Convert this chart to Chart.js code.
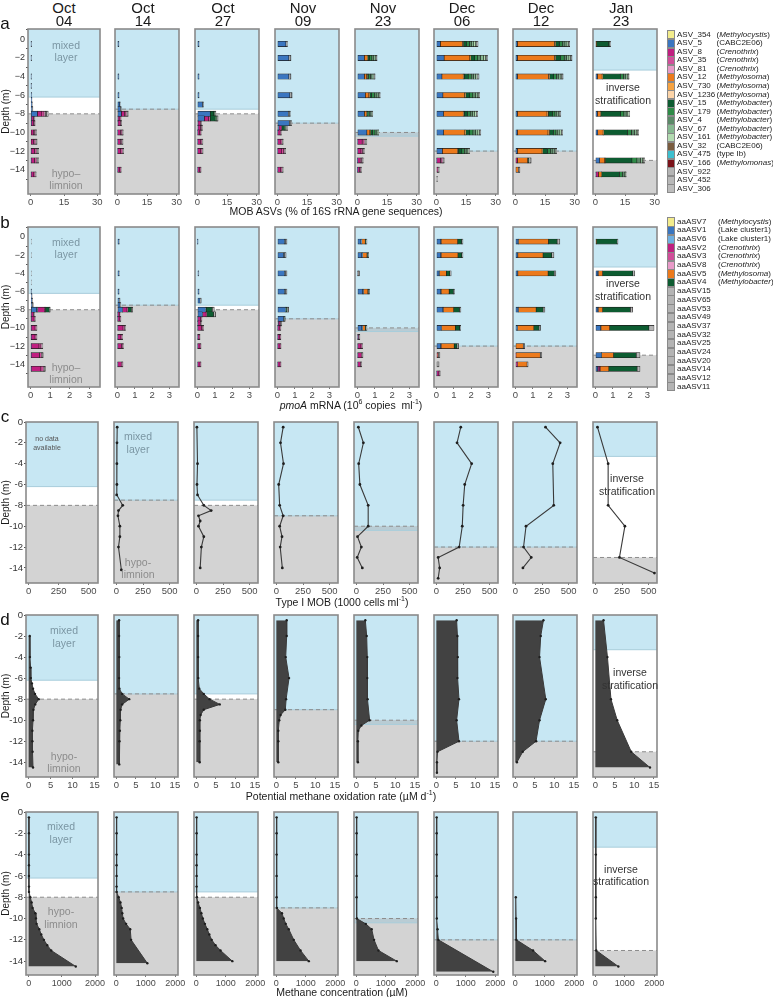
<!DOCTYPE html>
<html>
<head>
<meta charset="utf-8">
<script src="https://cdn.jsdelivr.net/npm/chart.js@4.4.0/dist/chart.umd.min.js"></script>
<style>
  body { margin: 0; background: #fff; }
  #fig { position: relative; width: 773px; height: 997px; overflow: hidden; font-family: "Liberation Sans", Arial, sans-serif; }
  #fig canvas { position: absolute; }
  .t { position: absolute; transform: translate(-50%, -50%); white-space: nowrap; z-index: 2; line-height: 1; }
  .l { position: absolute; transform: translate(0, -50%); white-space: nowrap; z-index: 2; line-height: 1; font-size: 8px; color: #222; }
  .sw { position: absolute; width: 8px; box-sizing: border-box; border: 1px solid #8a8a8a; z-index: 2; }
</style>
</head>
<body>
<div id="fig"></div>
<script>
// sampling dates (column headers)
const dateMonth = ['Oct', 'Oct', 'Oct', 'Nov', 'Nov', 'Dec', 'Dec', 'Jan'];
const dateDay = ['04', '14', '27', '09', '23', '06', '12', '23'];

// layer limits per date (m)
const mixedBottom = [-6.2, -7.5, -7.5, -9.0, -10.4, -12.0, -12.0, -3.3];
const hypoTop = [-8.0, -7.5, -8.0, -9.0, -10.0, -12.0, -12.0, -13.0];

const depthTicks = [0, -2, -4, -6, -8, -10, -12, -14];

// legend a
const asvNames = ['ASV_354', 'ASV_5', 'ASV_8', 'ASV_35', 'ASV_81', 'ASV_12', 'ASV_730', 'ASV_1236', 'ASV_15', 'ASV_179',
  'ASV_4', 'ASV_67', 'ASV_161', 'ASV_32', 'ASV_475', 'ASV_166', 'ASV_922', 'ASV_452', 'ASV_306'];
const asvGenus = ['(<i>Methylocystis</i>)', '(CABC2E06)', '(<i>Crenothrix</i>)', '(<i>Crenothrix</i>)', '(<i>Crenothrix</i>)',
  '(<i>Methylosoma</i>)', '(<i>Methylosoma</i>)', '(<i>Methylosoma</i>)', '(<i>Methylobacter</i>)', '(<i>Methylobacter</i>)',
  '(<i>Methylobacter</i>)', '(<i>Methylobacter</i>)', '(<i>Methylobacter</i>)', '(CABC2E06)', '(type Ib)', '(<i>Methylomonas</i>)', '', '', ''];
const asvColors = ['#f3ec8c', '#3a76c0', '#c01f80', '#d14e9a', '#e89ac8', '#ec7a1c', '#f7a341', '#fcd4a8', '#0d5c31', '#2e8b47',
  '#5b8a68', '#86b991', '#b3dcb1', '#7a5c3f', '#3dbfcf', '#7a1219', '#b4b4b4', '#b8b8b8', '#bcbcbc'];
// columns used in the mob tables below (index into the legend)
const mobCols = [1, 2, 3, 4, 5, 6, 8, 9, 10, 11, 12, 16, 18];

// legend b
const aaNames = ['aaASV7', 'aaASV1', 'aaASV6', 'aaASV2', 'aaASV3', 'aaASV8', 'aaASV5', 'aaASV4', 'aaASV15', 'aaASV65',
  'aaASV53', 'aaASV49', 'aaASV37', 'aaASV32', 'aaASV25', 'aaASV24', 'aaASV20', 'aaASV14', 'aaASV12', 'aaASV11'];
const aaGenus = ['(<i>Methylocystis</i>)', '(Lake cluster1)', '(Lake cluster1)', '(<i>Crenothrix</i>)', '(<i>Crenothrix</i>)',
  '(<i>Crenothrix</i>)', '(<i>Methylosoma</i>)', '(<i>Methylobacter</i>)'];
const aaColors = ['#f3ec8c', '#3a76c0', '#6fb0e2', '#c01f80', '#d14e9a', '#e89ac8', '#ec7a1c', '#0d5c31', '#b4b4b4', '#b4b4b4',
  '#b4b4b4', '#b4b4b4', '#b4b4b4', '#b4b4b4', '#b4b4b4', '#b4b4b4', '#b4b4b4', '#b4b4b4', '#b4b4b4', '#b4b4b4'];
const pmoCols = [1, 2, 3, 4, 5, 6, 7, 8];

// a: MOB ASVs (%), rows = [depth, ASV_5, 8, 35, 81, 12, 730, 15, 179, 4, 67, 161, 922, 306]
const mobOct04 = [
  [-0.5, .2,0,0,0,0,0,0,0,0,0,0,.2,0], [-2, .2,0,0,0,0,0,0,0,0,0,0,.2,0], [-4, .2,0,0,0,0,0,0,0,0,0,0,.2,0],
  [-5, .2,0,0,0,0,0,0,0,0,0,0,.2,0], [-6, .3,0,0,0,0,0,0,0,0,0,0,.2,0], [-6.5, .4,0,0,0,0,0,0,0,0,0,0,.2,0],
  [-7, .5,0,0,0,0,0,0,0,0,0,0,.3,0], [-7.5, .7,0,0,0,0,0,0,0,0,0,0,.3,0], [-8, 3.0,2.0,1.0,.6,0,0,0,0,0,0,0,.5,.8],
  [-8.5, .3,1.0,.3,0,0,0,0,0,0,0,0,.3,0], [-9, .3,1.0,.4,0,0,0,0,0,0,0,0,.3,0], [-10, 0,1.2,.6,.3,0,0,0,0,0,0,0,.3,.3],
  [-11, 0,1.3,.6,.3,0,0,0,0,0,0,0,.4,.3], [-12, .2,1.5,.8,.4,0,0,0,0,0,0,0,.4,.3], [-13, .2,1.5,.8,.4,0,0,0,0,0,0,0,.4,.3],
  [-14.5, .2,1.2,.5,0,0,0,0,0,0,0,0,.4,.2]];
const mobOct14 = [
  [-0.5, .6,0,0,0,0,0,0,0,0,0,0,.2,0], [-4, .6,0,0,0,0,0,0,0,0,0,0,.2,0], [-6, .7,0,0,0,0,0,0,0,0,0,0,.2,0],
  [-7, 1.2,0,0,0,0,0,0,0,0,0,0,.3,0], [-7.5, 1.5,0,0,0,0,0,0,0,0,0,0,.5,0], [-8, 2.0,1.5,.8,.4,0,0,0,0,0,0,0,.4,.4],
  [-8.5, .3,1.0,.3,0,0,0,0,0,0,0,0,.3,0], [-9, .3,1.2,.4,0,0,0,0,0,0,0,0,.3,0], [-10, .2,1.4,.6,.3,0,0,0,0,0,0,0,.3,.2],
  [-11, .2,1.3,.6,.3,0,0,0,0,0,0,0,.3,.2], [-12, .2,1.5,.7,.3,0,0,0,0,0,0,0,.3,.2], [-14, .2,1.0,.5,0,0,0,0,0,0,0,0,.3,0]];
const mobOct27 = [
  [-0.5, .7,0,0,0,0,0,0,0,0,0,0,.2,0], [-4, .7,0,0,0,0,0,0,0,0,0,0,.2,0], [-6, .7,0,0,0,0,0,0,0,0,0,0,.2,0],
  [-7, 2.6,0,0,0,0,0,0,0,0,0,0,.5,0], [-8, 6.5,0,0,0,0,0,1.8,.4,0,0,0,.5,.2], [-8.5, 3.5,2.2,.8,0,0,0,2.5,.5,.3,0,0,.4,.3],
  [-9, .3,1.2,.4,0,0,0,0,0,0,0,0,.3,0], [-9.5, .3,1.3,.5,0,0,0,0,0,0,0,0,.3,.2], [-10, .2,1.0,.5,0,0,0,0,0,0,0,0,.3,0],
  [-11, .2,1.5,.5,0,0,0,0,0,0,0,0,.3,.3], [-12, .2,1.5,.6,0,0,0,0,0,0,0,0,.3,.3], [-14, .2,1.0,.4,0,0,0,0,0,0,0,0,.3,0]];
const mobNov09 = [
  [-0.5, 4.3,0,0,0,0,0,0,0,0,0,0,.6,.2], [-2, 5.8,0,0,0,0,0,0,0,0,0,0,.8,.3], [-4, 5.8,0,0,0,0,0,0,0,0,0,0,.8,.3],
  [-6, 6.3,0,0,0,0,0,0,0,0,0,0,.8,.4], [-8, 5.5,0,0,0,0,0,0,0,0,0,0,.7,.4], [-9, 6.0,0,0,0,0,0,0,0,0,0,0,.8,.4],
  [-9.5, .8,1.2,.3,0,0,0,1.2,.4,.5,0,0,.5,.3], [-10, .2,1.2,.4,0,0,0,0,0,0,0,0,.3,0], [-11, .2,1.6,.6,0,0,0,0,0,0,0,0,.3,.3],
  [-12, .2,2.0,1.0,.4,0,0,0,0,0,0,0,.3,.3], [-14, .2,1.5,.6,0,0,0,0,0,0,0,0,.4,.3]];
const mobNov23 = [
  [-2, 3.5,0,0,0,1.5,.3,.8,1.2,1.0,.8,.5,.2,.2], [-4, 3.5,0,0,0,1.2,.3,.6,1.0,.8,.6,.5,.2,.3],
  [-6, 4.0,0,0,0,1.8,.4,1.0,1.5,1.2,.8,.5,.2,.2], [-8, 3.5,0,0,0,1.0,.2,.6,.8,.6,.5,.4,.2,0],
  [-10, 4.8,0,0,0,1.5,.3,1.0,1.3,1.0,.5,.3,0,.1], [-11, .2,2.2,1.0,.5,0,0,0,0,0,0,0,.5,.4],
  [-12, .2,1.6,.8,.4,0,0,0,0,0,0,0,.3,.3], [-13, .1,1.3,.7,.3,0,0,0,0,0,0,0,.3,.3], [-14, .1,1.0,.5,0,0,0,0,0,0,0,0,.3,.2]];
const mobDec06 = [
  [-0.5, 2.0,0,0,0,11.2,.5,1.5,1.5,1.2,1.0,1.0,.5,.7], [-2, 3.9,0,0,0,13.0,.5,2.0,1.5,1.5,1.5,1.0,.5,.5],
  [-4, 2.8,0,0,0,10.8,.5,2.0,1.5,1.2,1.0,.8,.5,.5], [-6, 3.3,0,0,0,11.0,.6,2.0,1.5,1.3,1.0,.7,.3,.2],
  [-8, 3.6,0,0,0,10.0,.5,1.6,1.4,1.3,1.0,.8,.4,.3], [-10, 3.6,0,0,0,10.8,.5,2.0,1.6,1.4,1.1,.8,.4,.3],
  [-12, 3.0,0,0,0,7.6,.5,1.8,1.2,1.0,.8,.5,.3,.1], [-13, .2,1.8,.8,.4,0,0,0,0,0,0,0,.4,.4],
  [-14, 0,.5,.2,0,0,0,0,0,0,0,0,.5,.3], [-15, 0,0,0,0,0,0,0,0,0,0,0,.3,.2]];
const mobDec12 = [
  [-0.5, 1.0,0,0,0,18.8,.6,2.0,1.5,1.2,1.0,.8,.4,.2], [-2, 1.0,0,0,0,18.8,.6,2.5,1.8,1.2,1.2,.8,.5,.3],
  [-4, 1.0,0,0,0,15.8,.6,2.0,1.3,1.0,1.0,.7,.5,.3], [-8, 1.0,0,0,0,15.0,.7,2.0,1.3,1.0,.8,.6,.4,.2],
  [-10, 1.0,0,0,0,15.5,.8,2.0,1.2,1.0,1.0,.8,.4,.2], [-12, 1.0,0,0,0,12.5,.3,2.5,1.5,1.2,.8,.6,.3,.2],
  [-13, 0,1.0,0,0,5.2,0,.5,0,0,0,0,.8,.5], [-14, 0,0,0,0,1.5,0,0,0,0,0,0,.5,.3]];
const mobJan23 = [
  [-0.5, 0,0,0,0,.5,0,6.2,.4,.2,0,0,.2,.2], [-4, 1.0,0,0,0,2.4,.3,9.0,1.5,1.2,.8,.5,.2,.2],
  [-8, 1.0,0,0,0,1.5,.3,10.0,1.6,1.2,.8,.6,.2,.2], [-10, 1.2,0,0,0,2.7,.3,12.0,2.0,1.5,1.0,.7,.3,.2],
  [-13, 2.1,0,0,0,2.6,.3,13.5,2.5,1.8,1.0,.6,.3,.2], [-14.5, .3,1.2,0,0,1.5,.2,9.0,1.5,1.0,.5,.2,.1,.1]];

// b: pmoA mRNA (10^6 copies/ml), rows = [depth, aaASV1, 6, 2, 3, 8, 5, 4, 15]
const pmoOct04 = [
  [-0.5, 0,0,0,0,0,0,0,.03], [-2, 0,0,0,0,0,0,0,.03], [-4, 0,0,0,0,0,0,0,.03], [-5, 0,0,0,0,0,0,0,.03],
  [-6, .02,0,0,0,0,0,0,.03], [-6.5, .03,0,0,0,0,0,0,.04], [-7, .05,0,0,0,0,0,0,.05], [-7.5, .08,0,0,0,0,0,0,.05],
  [-8, .3,.05,.35,.05,0,0,.2,.05], [-8.5, .02,0,.12,.03,0,0,0,.03], [-9, .02,0,.15,.04,0,0,0,.03],
  [-10, .02,0,.2,.05,.02,0,0,.03], [-11, .02,0,.2,.05,.02,0,0,.03], [-12, .02,0,.4,.1,.05,0,0,.05],
  [-13, .02,0,.42,.1,.05,0,0,.05], [-14.5, .02,0,.5,.12,.05,0,0,.06]];
const pmoOct14 = [
  [-0.5, .08,0,0,0,0,0,0,.03], [-4, .08,0,0,0,0,0,0,.03], [-6, .07,0,0,0,0,0,0,.03], [-7, .1,0,0,0,0,0,0,.05],
  [-7.5, .15,0,0,0,0,0,0,.05], [-8, .28,.02,.25,.05,0,0,.2,.08], [-8.5, .02,0,.1,.02,0,0,0,.02],
  [-9, .02,0,.12,.03,0,0,0,.03], [-10, .02,0,.3,.08,.03,0,0,.04], [-11, .02,0,.18,.05,.02,0,0,.03],
  [-12, .02,0,.22,.06,.02,0,0,.03], [-14, .02,0,.2,.05,.02,0,0,.03]];
const pmoOct27 = [
  [-0.5, .01,0,0,0,0,0,0,.02], [-4, .05,0,0,0,0,0,0,.03], [-6, .07,0,0,0,0,0,0,.03], [-7, .15,0,0,0,0,0,0,.07],
  [-8, .45,.05,0,0,0,0,.35,.12], [-8.5, .28,.02,.2,.03,0,0,.4,.12], [-9, .02,0,.17,.04,0,0,0,.03],
  [-9.5, .02,0,.15,.04,0,0,0,.03], [-10, .02,0,.22,.06,.03,0,0,.03], [-11, .02,0,.08,.02,0,0,0,.03],
  [-12, .02,0,.13,.03,0,0,0,.03], [-14, .02,0,.13,.03,0,0,0,.03]];
const pmoNov09 = [
  [-0.5, .4,.05,0,0,0,0,0,.1], [-2, .35,.05,0,0,0,0,0,.1], [-4, .4,.05,0,0,0,0,0,.1], [-6, .4,.05,0,0,0,0,0,.1],
  [-8, .45,.05,0,0,0,0,.05,.1], [-9, .35,.02,0,0,0,0,.02,.06], [-9.5, .05,0,.1,.02,0,0,.05,.03],
  [-10, .02,0,.12,.03,0,0,0,.03], [-11, .02,0,.12,.03,0,0,0,.03], [-12, .02,0,.13,.03,0,0,0,.03],
  [-14, .02,0,.13,.03,0,0,0,.03]];
const pmoNov23 = [
  [-0.5, .2,.05,0,0,0,.2,.03,.07], [-2, .25,.05,0,0,0,.25,.03,.07], [-4, .02,0,0,0,0,.02,0,.08],
  [-6, .3,.05,0,0,0,.25,.03,.07], [-10, .25,.05,0,0,0,.15,.03,.07], [-11, .02,0,.04,0,0,0,0,.08],
  [-12, .02,0,.18,.05,0,0,0,.05], [-13, .02,0,.2,.05,0,0,0,.05], [-14, .02,0,.15,.04,0,0,0,.04]];
const pmoDec06 = [
  [-0.5, .25,.02,0,0,0,.95,.23,.08], [-2, .25,.02,0,0,0,.97,.22,.07], [-4, .15,.02,0,0,0,.4,.2,.08],
  [-6, .25,.02,0,0,0,.46,.25,.06], [-8, .37,.02,0,0,0,.6,.34,.08], [-10, .27,.02,0,0,0,.8,.25,.06],
  [-12, .25,.02,0,0,0,.75,.16,.1], [-13, 0,0,.05,0,0,.05,0,.1], [-14, 0,0,0,0,0,0,0,.15], [-15, .02,0,.12,.03,0,0,0,.05]];
const pmoDec12 = [
  [-0.5, .15,.02,0,0,0,1.73,.5,.16], [-2, .12,.02,0,0,0,1.45,.5,.13], [-4, .12,.02,0,0,0,1.74,.35,.1],
  [-8, .15,.02,0,0,0,1.02,.4,.11], [-10, .1,.02,0,0,0,.94,.3,.09], [-12, 0,0,0,0,0,.45,0,.08],
  [-13, 0,0,.03,0,0,1.4,0,.09], [-14, 0,0,.1,.02,0,.55,0,.06]];
const pmoJan23 = [
  [-0.5, 0,0,0,0,0,.05,1.2,.05], [-4, .14,.02,0,0,0,.25,1.74,.12], [-8, .14,.02,0,0,0,.25,1.6,.14],
  [-10, .3,.02,0,0,0,.5,2.26,.3], [-13, .34,.02,0,0,0,.68,1.31,.22], [-14.5, .13,.02,.1,.02,0,.5,1.63,.17]];

// c: Type I MOB (1000 cells/ml), [depth, value]
const cellsOct04 = [];
const cellsOct14 = [[-0.5, 8], [-2, 6], [-4, 5], [-6, 5], [-7, 3], [-8, 60], [-8.5, 20], [-9, 15], [-10, 33], [-11, 33], [-12, 20], [-14.2, 47]];
const cellsOct27 = [[-0.5, 5], [-4, 11], [-6, 6], [-7, 11], [-8, 70], [-8.5, 139], [-9, 20], [-9.5, 36], [-10, 20], [-11, 70], [-12, 47], [-14, 36]];
const cellsNov09 = [[-0.5, 64], [-2, 39], [-4, 67], [-6, 22], [-8, 31], [-9, 64], [-10, 31], [-11, 53], [-12, 36], [-14, 56]];
const cellsNov23 = [[-0.5, 19], [-2, 66], [-4, 22], [-6, 33], [-8, 111], [-10, 111], [-11, 11], [-12, 47], [-13, 8], [-14, 56]];
const cellsDec06 = [[-0.5, 229], [-2, 194], [-4, 331], [-6, 266], [-8, 251], [-10, 243], [-12, 214], [-13, 17], [-14, 31], [-15, 17]];
const cellsDec12 = [[-0.5, 283], [-2, 420], [-4, 351], [-8, 360], [-10, 100], [-12, 77], [-13, 149], [-14, 71]];
const cellsJan23 = [[-0.5, 20], [-4, 120], [-8, 120], [-10, 277], [-13, 226], [-14.5, 554]];

// d: potential methane oxidation rate (uM/d)
const oxOct04 = [[-2, 0.25], [-4, 0.3], [-5, 0.45], [-6, 0.5], [-6.5, 0.75], [-7, 1.0], [-7.5, 1.45], [-8, 2.3], [-8.5, 1.5], [-9, 1.1], [-10, 1.0], [-11, 0.85], [-12, 0.85], [-13, 0.9], [-14.5, 1.0]];
const oxOct14 = [[-0.5, 0.7], [-2, 0.7], [-4, 0.75], [-6, 0.7], [-7, 0.8], [-7.5, 1.5], [-8, 3.3], [-8.5, 1.5], [-9, 1.1], [-10, 1.0], [-11, 0.9], [-12, 0.8], [-14.2, 0.75]];
const oxOct27 = [[-0.5, 0.45], [-2, 0.45], [-4, 0.45], [-6, 0.5], [-7, 0.75], [-7.5, 1.9], [-8, 3.4], [-8.5, 6.0], [-9, 1.9], [-9.5, 1.1], [-10, 0.9], [-11, 0.9], [-12, 0.85], [-14, 0.85]];
const oxNov09 = [[-0.5, 2.65], [-2, 2.65], [-4, 2.4], [-6, 3.25], [-8, 2.5], [-9, 2.3], [-9.5, 1.1], [-10, 0.75], [-11, 0.5], [-12, 0.5], [-14, 0.5]];
const oxNov23 = [[-0.5, 2.3], [-2, 2.65], [-4, 2.8], [-6, 2.8], [-8, 2.9], [-10, 3.4], [-10.5, 1.3], [-11, 0.5], [-12, 0.4], [-14, 0.4]];
const oxDec06 = [[-0.5, 5.2], [-2, 5.4], [-4, 5.5], [-6, 5.4], [-8, 5.8], [-10, 5.2], [-12, 5.8], [-13, 0.3], [-14, 0.15], [-15, 0.15]];
const oxDec12 = [[-0.5, 7.2], [-2, 6.5], [-4, 6.2], [-8, 7.8], [-10, 6.2], [-12, 5.3], [-13, 1.9], [-14, 0.4]];
const oxJan23 = [[-0.5, 2.1], [-4, 3.1], [-8, 4.0], [-10, 5.6], [-13, 9.2], [-14.5, 14]];

// e: methane concentration (uM)
const ch4Oct04 = [[-0.5, 8], [-2, 8], [-4, 8], [-5, 8], [-6, 8], [-7, 10], [-7.5, 10], [-8, 50], [-8.5, 90], [-9, 120], [-9.5, 200], [-10, 220], [-10.5, 240], [-11, 320], [-11.5, 380], [-12, 460], [-12.5, 560], [-13, 680], [-14.5, 1420]];
const ch4Oct14 = [[-0.5, 8], [-2, 8], [-4, 8], [-5, 8], [-6, 8], [-7, 8], [-7.5, 10], [-8, 80], [-8.5, 140], [-9, 180], [-9.5, 200], [-10, 230], [-10.5, 330], [-11, 470], [-12, 500], [-14.2, 1050]];
const ch4Oct27 = [[-0.5, 8], [-2, 8], [-4, 8], [-5, 8], [-6, 8], [-7, 8], [-8, 20], [-8.5, 60], [-9, 120], [-9.5, 170], [-10, 220], [-10.5, 290], [-11, 370], [-11.5, 440], [-12, 520], [-12.5, 650], [-13, 820], [-14, 1220]];
const ch4Nov09 = [[-0.5, 8], [-2, 8], [-4, 8], [-6, 8], [-8, 8], [-9, 20], [-9.5, 190], [-10, 250], [-10.5, 320], [-11, 420], [-12, 590], [-13, 820], [-14, 1100]];
const ch4Nov23 = [[-0.5, 8], [-2, 8], [-4, 8], [-6, 8], [-8, 8], [-10, 20], [-10.5, 320], [-11, 520], [-12, 600], [-13, 750], [-14, 1370]];
const ch4Dec06 = [[-0.5, 10], [-2, 10], [-4, 10], [-6, 10], [-8, 10], [-10, 15], [-11, 40], [-12, 68], [-15, 1930]];
const ch4Dec12 = [[-8, 15], [-10, 25], [-12, 35], [-13, 600], [-14, 1010]];
const ch4Jan23 = [[-0.5, 15], [-4, 15], [-8, 15], [-10, 15], [-13, 30], [-14.5, 780]];

const mobData = [mobOct04, mobOct14, mobOct27, mobNov09, mobNov23, mobDec06, mobDec12, mobJan23];
const pmoData = [pmoOct04, pmoOct14, pmoOct27, pmoNov09, pmoNov23, pmoDec06, pmoDec12, pmoJan23];
const cellsData = [cellsOct04, cellsOct14, cellsOct27, cellsNov09, cellsNov23, cellsDec06, cellsDec12, cellsJan23];
const oxData = [oxOct04, oxOct14, oxOct27, oxNov09, oxNov23, oxDec06, oxDec12, oxJan23];
const ch4Data = [ch4Oct04, ch4Oct14, ch4Oct27, ch4Nov09, ch4Nov23, ch4Dec06, ch4Dec12, ch4Jan23];

// ---- layout ----
const FONT = '"Liberation Sans", Arial, sans-serif';
const BLUE = '#c7e7f3', GRAY = '#d3d3d3', OVER = '#b9ccd4';
const leftsAB = [28, 107, 187, 267, 347, 426, 505, 585];
const leftsCDE = [26, 106, 186, 266, 346, 426, 505, 585];
const rowsCfg = [
  {top: 29, h: 165, lefts: leftsAB, yMin: -15.5, xMin: -1.2, xMax: 31.2, xTicks: [0, 15, 30], minus: '\u2212', yFont: 9, xFont: 9.5},
  {top: 227, h: 160, lefts: leftsAB, yMin: -15.4, xMin: -0.14, xMax: 3.55, xTicks: [0, 1, 2, 3], minus: '\u2212', yFont: 9, xFont: 9.5},
  {top: 422, h: 161, lefts: leftsCDE, yMin: -15.45, xMin: -22, xMax: 578, xTicks: [0, 250, 500], minus: '-', yFont: 9.5, xFont: 9.5},
  {top: 615, h: 162, lefts: leftsCDE, yMin: -15.4, xMin: -0.6, xMax: 15.8, xTicks: [0, 5, 10, 15], minus: '-', yFont: 9.5, xFont: 9.5},
  {top: 812, h: 163, lefts: leftsCDE, yMin: -15.3, xMin: -80, xMax: 2090, xTicks: [0, 1000, 2000], minus: '-', yFont: 9.5, xFont: 9}
];

const fig = document.getElementById('fig');

function txt(x, y, html, css) {
  const d = document.createElement('div');
  d.className = 't';
  d.innerHTML = html;
  d.style.cssText = 'left:' + x + 'px;top:' + y + 'px;' + (css || '');
  fig.appendChild(d);
}

function layerPlugin(col) {
  return {
    id: 'layers',
    beforeDatasetsDraw(chart) {
      const {ctx, chartArea: a, scales: {y}} = chart;
      const yMix = y.getPixelForValue(mixedBottom[col]);
      const yHyp = y.getPixelForValue(hypoTop[col]);
      ctx.save();
      ctx.fillStyle = '#fff';
      ctx.fillRect(a.left, a.top, a.width, a.height);
      ctx.fillStyle = BLUE;
      ctx.fillRect(a.left, a.top, a.width, yMix - a.top);
      ctx.fillStyle = GRAY;
      ctx.fillRect(a.left, yHyp, a.width, a.bottom - yHyp);
      if (yMix > yHyp) {
        ctx.fillStyle = OVER;
        ctx.fillRect(a.left, yHyp, a.width, yMix - yHyp);
      }
      ctx.strokeStyle = '#a8cddb';
      ctx.lineWidth = 1;
      ctx.beginPath();
      ctx.moveTo(a.left, yMix); ctx.lineTo(a.right, yMix);
      ctx.stroke();
      ctx.setLineDash([4, 3]);
      ctx.strokeStyle = '#8c8c8c';
      ctx.beginPath();
      ctx.moveTo(a.left, yHyp); ctx.lineTo(a.right, yHyp);
      ctx.stroke();
      ctx.restore();
    },
    afterDatasetsDraw(chart) {
      const {ctx, chartArea: a} = chart;
      ctx.save();
      ctx.strokeStyle = '#8a8a8a';
      ctx.lineWidth = 1.6;
      ctx.strokeRect(a.left, a.top, a.width, a.height);
      ctx.restore();
    }
  };
}

function panel(r, c, type, datasets) {
  const R = rowsCfg[r];
  const L = R.lefts[c], T = R.top, W = 72, H = R.h;
  const first = c === 0;
  const padL = first ? L : 8, padT = 7, padR = 14, padB = 16;
  const cv = document.createElement('canvas');
  cv.width = W + padL + padR;
  cv.height = H + padT + padB;
  cv.style.left = (L - padL) + 'px';
  cv.style.top = (T - padT) + 'px';
  fig.appendChild(cv);
  new Chart(cv, {
    type: type,
    data: {datasets: datasets},
    options: {
      responsive: false, animation: false, devicePixelRatio: 1, indexAxis: 'y',
      layout: {padding: {left: first ? 0 : padL, top: padT, right: padR, bottom: 0}},
      plugins: {legend: {display: false}, tooltip: {enabled: false}},
      scales: {
        x: {
          type: 'linear', stacked: type === 'bar', min: R.xMin, max: R.xMax,
          afterFit: s => { s.height = padB; },
          afterBuildTicks: s => { s.ticks = R.xTicks.map(v => ({value: v})); },
          grid: {display: true, drawOnChartArea: false, tickLength: 2, color: '#777'},
          border: {display: false},
          ticks: {padding: 1, maxRotation: 0, autoSkip: false, color: '#4a4a4a', font: {size: R.xFont, family: FONT},
            callback: v => String(v)}
        },
        y: {
          type: 'linear', stacked: type === 'bar', min: R.yMin, max: 0, display: first,
          afterFit: s => { s.width = padL; },
          afterBuildTicks: s => { s.ticks = depthTicks.map(v => ({value: v})); },
          grid: {display: true, drawOnChartArea: false, tickLength: 2, color: '#555'},
          border: {display: false},
          title: {display: true, text: 'Depth (m)', color: '#1a1a1a', font: {size: 10, family: FONT}, padding: {top: 0, bottom: 0}},
          ticks: {padding: 1, color: '#333', font: {size: R.yFont, family: FONT},
            callback: v => v === 0 ? '0' : R.minus + Math.abs(v)}
        }
      }
    },
    plugins: [layerPlugin(c)]
  });
}

function barSets(table, cols, names, colors, thick) {
  return cols.map((li, k) => ({
    label: names[li],
    data: table.filter(row => row[k + 1] > 0).map(row => ({x: row[k + 1], y: row[0]})),
    backgroundColor: colors[li],
    borderColor: '#1c1c1c',
    borderWidth: 0.6,
    borderSkipped: false,
    barThickness: thick
  }));
}

function lineSet(table, filled) {
  return [{
    data: table.map(p => ({x: p[1], y: p[0]})),
    borderColor: '#3a3a3a',
    backgroundColor: '#424242',
    borderWidth: filled ? 1 : 1.1,
    pointRadius: filled ? 1.2 : 1.4,
    pointBackgroundColor: '#1e1e1e',
    pointBorderWidth: 0,
    tension: 0,
    fill: filled ? {value: 0} : false
  }];
}

for (let c = 0; c < 8; c++) {
  panel(0, c, 'bar', barSets(mobData[c], mobCols, asvNames, asvColors, 5.3));
  panel(1, c, 'bar', barSets(pmoData[c], pmoCols, aaNames, aaColors, 5.1));
  panel(2, c, 'line', cellsData[c].length ? lineSet(cellsData[c], false) : []);
  panel(3, c, 'line', lineSet(oxData[c], true));
  panel(4, c, 'line', lineSet(ch4Data[c], true));
}

// column headers
for (let c = 0; c < 8; c++) {
  const cx = leftsAB[c] + 36;
  txt(cx, 6.8, dateMonth[c], 'font-size:15px;color:#1a1a1a;');
  txt(cx, 20.3, dateDay[c], 'font-size:15px;color:#1a1a1a;');
}

// panel letters
txt(5, 23, 'a', 'font-size:17px;color:#111;');
txt(5, 222, 'b', 'font-size:17px;color:#111;');
txt(5, 416, 'c', 'font-size:17px;color:#111;');
txt(5, 619, 'd', 'font-size:17px;color:#111;');
txt(5, 795, 'e', 'font-size:17px;color:#111;');

// axis titles
const axStyle = 'font-size:10.5px;color:#1a1a1a;';
txt(336, 211, 'MOB ASVs (% of 16S rRNA gene sequences)', axStyle);
txt(351, 404, '<i>pmoA</i> mRNA (10<sup style="font-size:7px">6</sup> copies&nbsp; ml<sup style="font-size:7px">-1</sup>)', axStyle);
txt(342, 601, 'Type I MOB (1000 cells ml<sup style="font-size:7px">-1</sup>)', axStyle);
txt(341, 795, 'Potential methane oxidation rate (\u00b5M d<sup style="font-size:7px">-1</sup>)', axStyle);
txt(342, 992, 'Methane concentration (\u00b5M)', axStyle);

// layer annotations
const mixStyle = 'font-size:10.5px;color:#7b96a3;';
const hypStyle = 'font-size:10.5px;color:#8c8c8c;';
const invStyle = 'font-size:10.5px;color:#333;';
txt(66, 44.5, 'mixed', mixStyle); txt(66, 57, 'layer', mixStyle);
txt(66, 172.5, 'hypo\u2013', hypStyle); txt(66, 184.5, 'limnion', hypStyle);
txt(66, 241.5, 'mixed', mixStyle); txt(66, 254, 'layer', mixStyle);
txt(66, 366.5, 'hypo\u2013', hypStyle); txt(66, 379, 'limnion', hypStyle);
txt(47, 438, 'no data', 'font-size:7px;color:#555;'); txt(47, 446.5, 'available', 'font-size:7px;color:#555;');
txt(138, 436, 'mixed', mixStyle); txt(138, 449, 'layer', mixStyle);
txt(138, 562, 'hypo-', hypStyle); txt(138, 574, 'limnion', hypStyle);
txt(64, 630, 'mixed', mixStyle); txt(64, 643, 'layer', mixStyle);
txt(64, 755.5, 'hypo-', hypStyle); txt(64, 768, 'limnion', hypStyle);
txt(61, 826, 'mixed', mixStyle); txt(61, 838.5, 'layer', mixStyle);
txt(61, 911, 'hypo-', hypStyle); txt(61, 924, 'limnion', hypStyle);
txt(623, 86.7, 'inverse', invStyle); txt(623, 100, 'stratification', invStyle);
txt(623, 283.3, 'inverse', invStyle); txt(623, 296, 'stratification', invStyle);
txt(627, 478.3, 'inverse', invStyle); txt(627, 491, 'stratification', invStyle);
txt(630, 672.3, 'inverse', invStyle); txt(630, 684.7, 'stratification', invStyle);
txt(621, 868.7, 'inverse', invStyle); txt(621, 881.3, 'stratification', invStyle);

// legends
function legend(names, genus, colors, y0, dy, gx) {
  names.forEach((n, i) => {
    const cy = y0 + i * dy;
    const sw = document.createElement('div');
    sw.className = 'sw';
    sw.style.cssText = 'left:666.5px;top:' + (cy - dy / 2) + 'px;height:' + (dy + 0.5) + 'px;background:' + colors[i] + ';';
    fig.appendChild(sw);
    const a = document.createElement('div');
    a.className = 'l';
    a.style.cssText = 'left:677px;top:' + cy + 'px;';
    a.textContent = n;
    fig.appendChild(a);
    if (genus[i]) {
      const g = document.createElement('div');
      g.className = 'l';
      g.style.cssText = 'left:' + gx + 'px;top:' + cy + 'px;';
      g.innerHTML = genus[i];
      fig.appendChild(g);
    }
  });
}
legend(asvNames, asvGenus, asvColors, 34.7, 8.55, 716.5);
legend(aaNames, aaGenus, aaColors, 221.7, 8.68, 718);
</script>
</body>
</html>
